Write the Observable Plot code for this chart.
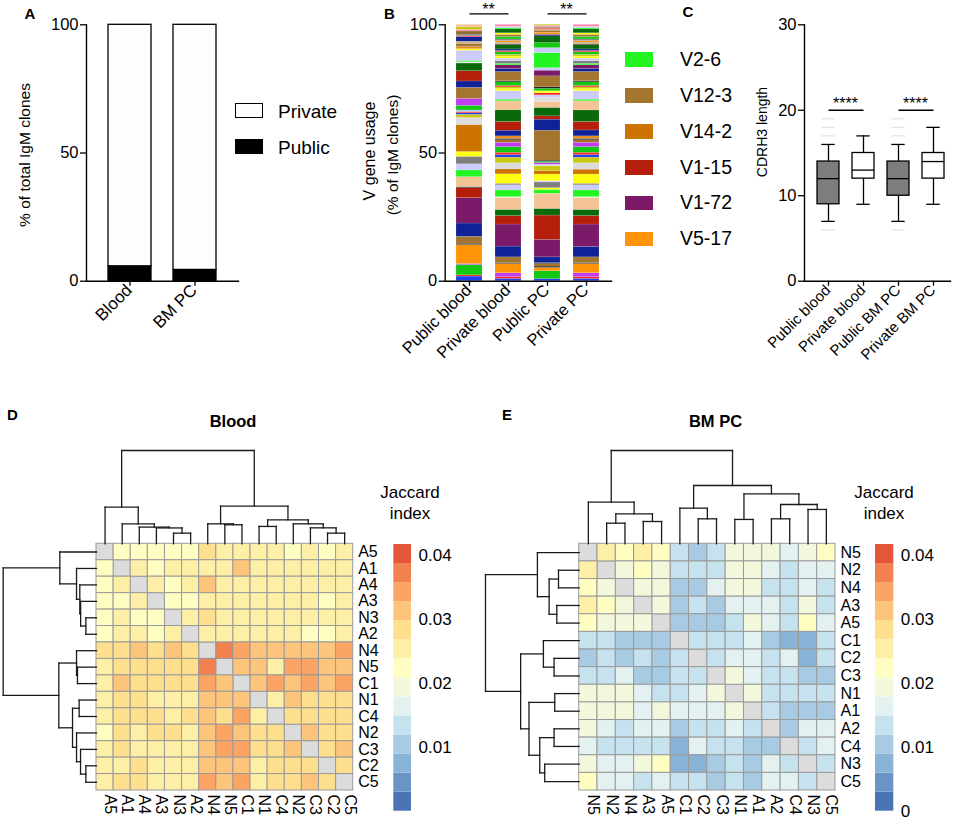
<!DOCTYPE html>
<html><head><meta charset="utf-8">
<script src="https://cdn.jsdelivr.net/npm/d3@7"></script>
<script src="https://cdn.jsdelivr.net/npm/@observablehq/plot@0.6"></script>
<style>
body{margin:0;background:#fff;}
#fig{position:relative;width:958px;height:820px;overflow:hidden;font-family:"Liberation Sans",Arial,sans-serif;color:#000;background:#fff;}
#fig svg{position:absolute;left:0;top:0;font-family:"Liberation Sans",Arial,sans-serif;}
.t{position:absolute;white-space:nowrap;line-height:1;}
</style></head><body><div id="fig"></div>
<script>
// ---------------- DATA ----------------
// Panel A
const aGroups = ["Blood", "BM PC"];
const aSeries = ["Private", "Public"];
const aPublicPct = [5.8, 4.4];
const aPrivatePct = [94.2, 95.6];
const aTicks = [0, 50, 100];

// Panel B
const bGroups = ["Public blood", "Private blood", "Public PC", "Private PC"];
const bTicks = [0, 50, 100];
const geneNames = ["V1-4","V1-5","V1-7","V1-9","V5-17","V1-12","V1-18","V1-19","V1-72","V1-15","V1-20","V2-3","V1-22","V2-6","V1-26","V1-31","V1-34","V14-2","V1-39","V1-42","V1-47","V1-50","V1-52","V1-53","V1-54","V12-3","V1-55","V1-59","V1-61","V1-63","V2-9","V1-64","V1-66","V1-69","V1-82","V5-12","V1-76","V1-80","V1-81","V3-1","V1-84","V1-85","V2-2","V2-4","V2-5","V3-6","V3-8","V5-4","V5-6","V5-9","V6-3","V6-6","V7-1","V7-3","V8-8","V8-12","V9-1","V9-3","V10-1","V10-3","V11-2","V13-2","V14-1","V14-4"];
const geneColors = ["#1f3ff5","#f02a1e","#c03cf0","#12c812","#ff9408","#111111","#a4752e","#0f2396","#7a1a68","#b41e0a","#0a690a","#111111","#f5c496","#22f522","#ccccff","#7f7f7f","#ffff10","#cc7300","#dcdcdc","#c8c810","#1f3ff5","#f02a1e","#a8c8f0","#12c812","#c03cf0","#a4752e","#0f2396","#b41e0a","#0a690a","#f2f2f2","#22f522","#ccccff","#ffff10","#e68a1e","#a4752e","#d2b48c","#0f2396","#f02a1e","#7f7f7f","#8c6a2a","#ff88aa","#c8c810","#0a690a","#f5c496","#7a1a68","#ccccff","#ffff10","#12c812","#111111","#ff9408","#22f522","#7f7f7f","#c8c810","#f02a1e","#0f2396","#0a690a","#111111","#12c812","#a4752e","#ffff10","#22f522","#ccccff","#dcdcdc","#ff88aa"];

const bPublicBloodGenes = ["V1-4","V1-5","V1-9","V1-7","V5-17","V1-12","V1-18","V1-19","V1-72","V1-15","V2-3","V1-22","V2-6","V1-26","V1-31","V1-34","V14-2","V1-39","V1-42","V1-47","V1-50","V1-52","V1-53","V1-54","V12-3","V1-55","V1-59","V1-61","V1-63","V2-9","V1-64","V1-66","V1-69","V1-82","V5-12","V1-76","V1-80","V1-81","V3-1","V1-84","V1-85","V2-4"];
const bPublicBloodPct = [1.8,0.5,4.0,0.4,7.4,0.5,2.7,5.2,9.9,3.9,0.4,3.9,2.6,2.4,2.9,1.9,10.5,2.8,1.2,0.6,0.5,0.6,1.8,2.7,4.3,2.5,4.0,3.0,0.5,0.5,4.0,0.6,0.8,1.3,0.8,1.8,0.4,0.6,1.2,0.6,1.0,1.0];

const bPrivateBloodGenes = ["V1-4","V1-5","V1-7","V5-17","V1-12","V1-18","V1-19","V1-72","V1-15","V1-20","V1-22","V1-63","V2-6","V1-26","V1-31","V1-34","V14-2","V1-39","V1-42","V1-47","V1-50","V1-53","V1-54","V12-3","V2-3","V1-69","V1-55","V1-59","V1-61","V2-4","V2-9","V1-64","V1-66","V1-85","V1-80","V5-4","V5-6","V1-82","V1-76","V2-5","V6-3","V1-81","V3-6","V3-8","V7-1","V1-9","V7-3","V8-8","V2-2","V9-1","V5-12","V5-9","V6-6","V9-3","V10-1","V10-3","V8-12","V11-2","V13-2","V14-4"];
const bPrivateBloodPct = [0.9,0.7,1.5,3.6,0.4,2.2,4.2,8.6,3.3,2.4,4.7,0.3,2.6,2.0,0.6,3.7,1.9,2.4,2.2,1.0,0.9,2.2,1.7,1.0,0.5,1.0,2.2,3.4,4.6,3.5,0.6,3.3,0.9,0.6,0.6,1.4,0.4,3.6,1.2,1.4,0.6,1.0,1.0,0.8,0.7,1.0,0.5,0.6,1.6,0.3,0.8,0.6,0.6,1.0,0.8,0.6,1.5,0.5,0.5,0.8];

const bPublicPCGenes = ["V1-4","V1-9","V5-17","V1-12","V1-18","V2-3","V1-19","V1-72","V1-15","V1-20","V1-22","V2-9","V1-66","V1-31","V1-26","V1-34","V14-2","V1-42","V1-39","V1-54","V1-53","V5-6","V12-3","V1-55","V1-59","V1-61","V2-4","V14-1","V1-64","V1-50","V3-8","V5-4","V9-1","V1-82","V2-5","V3-6","V2-6","V13-2","V9-3","V2-2","V8-8","V5-9","V10-1","V5-12","V7-3","V6-6","V1-84","V7-1"];
const bPublicPCPct = [0.8,3.1,1.3,0.5,1.0,0.4,2.2,6.8,9.5,2.6,5.9,1.5,0.7,2.2,0.5,2.6,1.3,1.9,0.6,0.7,0.5,0.4,11.7,4.3,1.3,3.3,2.3,1.6,1.0,0.8,0.8,1.0,0.5,4.3,2.2,1.0,5.9,1.9,2.0,2.6,0.6,0.8,0.8,0.6,0.5,0.4,0.4,0.4];

const bPrivatePCGenes = bPrivateBloodGenes.slice();
const bPrivatePCPct = [0.9,0.7,1.5,3.6,0.4,2.2,4.1,8.7,3.3,2.4,4.7,0.3,2.6,2.0,0.6,3.6,1.9,2.5,2.2,1.0,0.9,2.2,1.7,1.0,0.5,1.0,2.3,3.3,4.5,3.6,0.6,3.3,0.9,0.6,0.6,1.4,0.4,3.6,1.2,1.4,0.6,1.0,1.0,0.8,0.7,1.0,0.5,0.6,1.6,0.3,0.8,0.6,0.6,1.0,0.8,0.6,1.5,0.5,0.5,0.8];

const bLegendGenes = ["V2-6", "V12-3", "V14-2", "V1-15", "V1-72", "V5-17"];
const bSigPairs = [["Public blood", "Private blood"], ["Public PC", "Private PC"]];
const bSigLevel = 104.3;
const bSigText = "**";

// Panel C (box summaries)
const cGroups = ["Public blood", "Private blood", "Public BM PC", "Private BM PC"];
const cTicks = [0, 10, 20, 30];
const cKind = ["Public", "Private", "Public", "Private"];
const cMin = [7, 9, 7, 9];
const cQ1 = [9, 12, 10, 12];
const cMedian = [12, 13, 12, 14];
const cQ3 = [14, 15, 14, 15];
const cMax = [16, 17, 16, 18];
const cFaintGroup = ["Public blood","Public blood","Public blood","Public blood","Public BM PC","Public BM PC","Public BM PC","Public BM PC"];
const cFaintValue = [6, 17, 18, 19, 6, 17, 18, 19];
const cSigPairs = [["Public blood", "Private blood"], ["Public BM PC", "Private BM PC"]];
const cSigLevel = 20;
const cSigText = "****";

// Panel D (Blood) Jaccard matrix
const dLabels = ["A5","A1","A4","A3","N3","A2","N4","N5","C1","N1","C4","N2","C3","C2","C5"];
const dMatrix = [
 [null,.0225,.0225,.0225,.0225,.0225,.0285,.0255,.0255,.0255,.0255,.0225,.0255,.0225,.0255],
 [.0225,null,.0255,.0225,.0255,.0255,.0255,.0255,.0315,.0255,.0255,.0255,.0255,.0255,.0255],
 [.0225,.0255,null,.0255,.0225,.0255,.0315,.0255,.0255,.0255,.0255,.0255,.0255,.0255,.0255],
 [.0225,.0225,.0255,null,.0225,.0225,.0255,.0255,.0255,.0255,.0255,.0255,.0255,.0225,.0255],
 [.0225,.0255,.0225,.0225,null,.0255,.0285,.0255,.0255,.0255,.0255,.0255,.0255,.0255,.0255],
 [.0225,.0255,.0255,.0225,.0255,null,.0255,.0255,.0255,.0255,.0255,.0255,.0225,.0225,.0255],
 [.0285,.0285,.0315,.0285,.0315,.0285,null,.0375,.0345,.0315,.0315,.0315,.0315,.0315,.0345],
 [.0255,.0285,.0285,.0285,.0285,.0285,.0375,null,.0315,.0315,.0255,.0345,.0345,.0315,.0315],
 [.0255,.0315,.0285,.0285,.0285,.0285,.0345,.0315,null,.0315,.0345,.0315,.0345,.0315,.0345],
 [.0255,.0285,.0285,.0255,.0255,.0255,.0315,.0315,.0315,null,.0255,.0315,.0285,.0285,.0285],
 [.0255,.0285,.0285,.0285,.0255,.0285,.0315,.0285,.0345,.0255,null,.0285,.0285,.0285,.0285],
 [.0225,.0285,.0255,.0285,.0285,.0255,.0315,.0345,.0315,.0285,.0285,null,.0315,.0285,.0285],
 [.0255,.0285,.0255,.0255,.0255,.0255,.0315,.0345,.0345,.0285,.0285,.0315,null,.0285,.0315],
 [.0255,.0255,.0285,.0255,.0255,.0255,.0315,.0315,.0315,.0255,.0285,.0285,.0285,null,.0285],
 [.0255,.0285,.0285,.0255,.0255,.0255,.0345,.0315,.0345,.0255,.0285,.0285,.0315,.0285,null]
];
// dendrogram: [height, left, right]
const dTree = [1.0,
  [0.393, "A5", [0.214, "A1", [0.179, "A4", [0.170, "A3", [0.114, "N3", "A2"]]]]],
  [0.404,
    [0.214, "N4", [0.204, "N5", "C1"]],
    [0.257, [0.186, "N1", "C4"], [0.214, "N2", [0.171, "C3", [0.114, "C2", "C5"]]]]]];

// Panel E (BM PC)
const eLabels = ["N5","N2","N4","A3","A5","C1","C2","C3","N1","A1","A2","C4","N3","C5"];
const eMatrix = [
 [null,.0255,.0225,.0255,.0225,.0135,.0105,.0135,.0195,.0195,.0195,.0165,.0195,.0225],
 [.0255,null,.0195,.0225,.0195,.0135,.0135,.0135,.0195,.0195,.0165,.0135,.0165,.0165],
 [.0225,.0195,null,.0195,.0195,.0105,.0105,.0165,.0195,.0195,.0135,.0135,.0165,.0135],
 [.0255,.0225,.0195,null,.0195,.0105,.0135,.0105,.0165,.0165,.0165,.0135,.0195,.0135],
 [.0225,.0195,.0195,.0195,null,.0105,.0105,.0105,.0135,.0195,.0165,.0135,.0225,.0165],
 [.0135,.0135,.0105,.0105,.0105,null,.0135,.0135,.0135,.0165,.0105,.0075,.0075,.0135],
 [.0105,.0135,.0105,.0135,.0105,.0135,null,.0135,.0165,.0165,.0135,.0165,.0075,.0135],
 [.0135,.0135,.0165,.0105,.0105,.0135,.0135,null,.0195,.0165,.0135,.0135,.0105,.0105],
 [.0195,.0195,.0195,.0165,.0135,.0135,.0165,.0195,null,.0195,.0135,.0135,.0135,.0135],
 [.0195,.0195,.0195,.0165,.0195,.0165,.0165,.0165,.0195,null,.0135,.0105,.0105,.0105],
 [.0195,.0165,.0135,.0165,.0165,.0105,.0135,.0135,.0165,.0135,null,.0105,.0165,.0165],
 [.0165,.0135,.0135,.0135,.0135,.0075,.0165,.0135,.0135,.0105,.0105,null,.0135,.0165],
 [.0195,.0165,.0165,.0195,.0225,.0075,.0075,.0105,.0135,.0105,.0165,.0135,null,.0135],
 [.0225,.0165,.0165,.0135,.0165,.0135,.0135,.0105,.0135,.0105,.0165,.0165,.0135,null]
];
const eTree = [1.0,
  [0.446, "N5", [0.321, [0.221, "N2", "N4"], [0.239, "A3", "A5"]]],
  [0.625,
    [0.382, "C1", [0.268, "C2", "C3"]],
    [0.536, [0.261, "N1", "A1"], [0.421, [0.268, "A2", "C4"], [0.368, "N3", "C5"]]]]];

// Jaccard colour scale
const jaccardMax = 0.0417;
const jaccardSteps = 14;
const jaccardColors = ["#4a74b4","#6a94c6","#88b2d6","#a6cbe2","#c6e2ee","#e3f2f1","#f3f8dc","#fffec2","#feefa6","#fedf8e","#fdc47c","#fba464","#f3804f","#e45539"];
const dLegendTicks = [0.01, 0.02, 0.03, 0.04];
const eLegendTicks = [0, 0.01, 0.02, 0.03, 0.04];

// ---------------- DRAWING ----------------
const fig = document.getElementById("fig");
const baseStyle = 'background:none;font-family:"Liberation Sans",Arial,sans-serif;font-size:16px;color:#000;overflow:visible;';
function framed(f) {
  return {width: 958, height: 820, marginLeft: f.l, marginRight: 958 - f.r, marginTop: f.t, marginBottom: 820 - f.b, style: baseStyle};
}
function add(p) { fig.appendChild(p); return p; }
function label(str, x, y, o = {}) {
  const d = document.createElement("div");
  d.className = "t"; d.textContent = str;
  d.style.left = x + "px"; d.style.top = y + "px";
  d.style.fontSize = (o.size || 16) + "px";
  d.style.fontWeight = o.weight || "normal";
  const a = o.anchor || "middle";
  const tx = a === "start" ? "0" : a === "end" ? "-100%" : "-50%";
  d.style.transform = `translate(${tx},-50%)` + (o.rotate ? ` rotate(${o.rotate}deg)` : "");
  fig.appendChild(d); return d;
}
function swatch(x, y, w, h, fill, stroke) {
  const d = document.createElement("div");
  Object.assign(d.style, {position: "absolute", left: x + "px", top: y + "px", width: w + "px", height: h + "px",
    background: fill, boxSizing: "border-box", border: stroke ? `1.3px solid ${stroke}` : "none"});
  fig.appendChild(d);
}
function bandCenter(plot, v) {
  const s = plot.scale("x");
  return s.apply(v) + (s.bandwidth || 0) / 2;
}
// axis lines, tick marks, and tick labels (labels as text marks with explicit sizes)
function axesMarks(yTicks, xGroups, xSize) {
  return [
    Plot.frame({anchor: "left", strokeWidth: 1.4}),
    Plot.frame({anchor: "bottom", strokeWidth: 1.4}),
    Plot.axisY({ticks: yTicks, tickSize: 6, strokeWidth: 1.3, tickFormat: () => "", label: null}),
    Plot.axisX({tickSize: 5, strokeWidth: 1.3, tickFormat: () => "", label: null}),
    Plot.text(yTicks, {y: d => d, text: d => String(d), frameAnchor: "left", dx: -8, textAnchor: "end", fontSize: 16.5}),
    Plot.text(xGroups, {x: d => d, text: d => d, frameAnchor: "bottom", dy: 10, dx: 3, rotate: -45, textAnchor: "end", fontSize: xSize})
  ];
}

// ---- Panel A ----
const aFrame = {l: 86, r: 238, t: 24.3, b: 280.7};
const aRows = aGroups.flatMap((g, i) => [
  {group: g, kind: "Public", pct: aPublicPct[i]},
  {group: g, kind: "Private", pct: aPrivatePct[i]}
]);
add(Plot.plot({
  ...framed(aFrame),
  x: {domain: aGroups, paddingInner: 0.346, paddingOuter: 0.338, label: null, axis: null},
  y: {domain: [0, 100], label: null, axis: null},
  color: {domain: aSeries, range: ["#fdfdfd", "#000000"]},
  marks: [
    Plot.barY(aRows, {x: "group", y: "pct", fill: "kind", stroke: "#000", strokeWidth: 1.3}),
    ...axesMarks(aTicks, aGroups, 17)
  ]
}));
label("% of total IgM clones", 25, 155, {size: 15.5, rotate: -90});
label("A", 30, 13, {size: 15, weight: "bold"});
const aLegendFill = {"Private": "#fdfdfd", "Public": "#000"};
aSeries.forEach((s, i) => {
  const top = 103.3 + i * 36;
  swatch(235, top, 28.3, 15, aLegendFill[s], "#000");
  label(s, 278, top + 7.5, {size: 19, anchor: "start"});
});

// ---- Panel B ----
const bFrame = {l: 444.7, r: 611, t: 24.3, b: 280.7};
const bSets = [
  [bPublicBloodGenes, bPublicBloodPct],
  [bPrivateBloodGenes, bPrivateBloodPct],
  [bPublicPCGenes, bPublicPCPct],
  [bPrivatePCGenes, bPrivatePCPct]
];
const bRows = bSets.flatMap(([genes, pct], gi) => genes.map((g, k) => ({group: bGroups[gi], gene: g, pct: pct[k]})));
const bPlot = add(Plot.plot({
  ...framed(bFrame),
  x: {domain: bGroups, paddingInner: 0.333, paddingOuter: 0.29, label: null, axis: null},
  y: {domain: [0, 100], label: null, axis: null},
  color: {domain: geneNames, range: geneColors},
  marks: [
    Plot.barY(bRows, {x: "group", y: "pct", fill: "gene", stroke: "#ffffff", strokeOpacity: 0.25, strokeWidth: 0.5}),
    Plot.link(bSigPairs, {x1: d => d[0], x2: d => d[1], y1: () => bSigLevel, y2: () => bSigLevel, stroke: "#000", strokeWidth: 1.3}),
    ...axesMarks(bTicks, bGroups, 16.5)
  ]
}));
bSigPairs.forEach(([g1, g2]) => label(bSigText, (bandCenter(bPlot, g1) + bandCenter(bPlot, g2)) / 2, 9.5, {size: 16}));
label("V gene usage", 370, 151, {size: 16, rotate: -90});
label("(% of IgM clones)", 393, 155, {size: 15.5, rotate: -90});
label("B", 389.5, 13, {size: 15, weight: "bold"});
bLegendGenes.forEach((g, i) => {
  const top = 52.3 + i * 35.9;
  swatch(625.3, top, 27.3, 14.5, geneColors[geneNames.indexOf(g)], null);
  label(g, 680, top + 7.5, {size: 19.5, anchor: "start"});
});

// ---- Panel C ----
const cFrame = {l: 804, r: 950, t: 24.3, b: 280.7};
const cRows = cGroups.map((g, i) => ({group: g, kind: cKind[i], min: cMin[i], q1: cQ1[i], med: cMedian[i], q3: cQ3[i], max: cMax[i]}));
const cFaint = cFaintGroup.map((g, i) => ({group: g, v: cFaintValue[i]}));
const cPlot = add(Plot.plot({
  ...framed(cFrame),
  x: {domain: cGroups, paddingInner: 0.375, paddingOuter: 0.26, align: 0.69, label: null, axis: null},
  y: {domain: [0, 30], label: null, axis: null},
  color: {domain: ["Public", "Private"], range: ["#7d7d7d", "#ffffff"]},
  marks: [
    Plot.tickY(cFaint, {x: "group", y: "v", stroke: "#dde3ec", strokeWidth: 1.2, insetLeft: 4.3, insetRight: 4.3}),
    Plot.ruleX(cRows, {x: "group", y1: "min", y2: "max", stroke: "#000", strokeWidth: 1.3}),
    Plot.barY(cRows, {x: "group", y1: "q1", y2: "q3", fill: "kind", stroke: "#000", strokeWidth: 1.3}),
    Plot.tickY(cRows, {x: "group", y: "med", stroke: "#000", strokeWidth: 1.3}),
    Plot.tickY(cRows, {x: "group", y: "min", stroke: "#000", strokeWidth: 1.3, insetLeft: 4.3, insetRight: 4.3}),
    Plot.tickY(cRows, {x: "group", y: "max", stroke: "#000", strokeWidth: 1.3, insetLeft: 4.3, insetRight: 4.3}),
    Plot.link(cSigPairs, {x1: d => d[0], x2: d => d[1], y1: () => cSigLevel, y2: () => cSigLevel, stroke: "#000", strokeWidth: 1.3}),
    ...axesMarks(cTicks, cGroups, 15)
  ]
}));
cSigPairs.forEach(([g1, g2]) => label(cSigText, (bandCenter(cPlot, g1) + bandCenter(cPlot, g2)) / 2, 103.5, {size: 16}));
label("CDRH3 length", 762, 132, {size: 14, rotate: -90});
label("C", 688, 11, {size: 15, weight: "bold"});

// ---- Heatmaps D & E ----
const jaccardBreaks = d3.range(jaccardSteps + 1).map(k => k * jaccardMax / jaccardSteps);
const jaccardScale = {type: "threshold", domain: jaccardBreaks.slice(1, -1), range: jaccardColors};

function dendroLinks(tree) {
  const links = []; let idx = 0;
  (function walk(node) {
    if (typeof node === "string") return {pos: (idx++) + 0.5, h: 0};
    const [h, a, b] = node;
    const A = walk(a), B = walk(b);
    links.push({p1: A.pos, h1: A.h, p2: A.pos, h2: h});
    links.push({p1: B.pos, h1: B.h, p2: B.pos, h2: h});
    links.push({p1: A.pos, h1: h, p2: B.pos, h2: h});
    return {pos: (A.pos + B.pos) / 2, h};
  })(tree);
  return links;
}

function heatPanel(c) {
  const n = c.labels.length;
  const cells = c.matrix.flatMap((row, i) => row.map((v, j) => ({i, j, v})));
  add(Plot.plot({
    ...framed(c.hm),
    x: {domain: [0, n], axis: null},
    y: {domain: [0, n], reverse: true, axis: null},
    color: jaccardScale,
    marks: [
      Plot.rect(cells.filter(d => d.v == null), {x1: d => d.j, x2: d => d.j + 1, y1: d => d.i, y2: d => d.i + 1, fill: "#dcdcdc", stroke: "#9a9a9a", strokeWidth: 1}),
      Plot.rect(cells.filter(d => d.v != null), {x1: d => d.j, x2: d => d.j + 1, y1: d => d.i, y2: d => d.i + 1, fill: "v", stroke: "#9a9a9a", strokeWidth: 1}),
      Plot.text(c.labels, {x: (d, i) => i + 0.5, text: d => d, frameAnchor: "bottom", dy: 4, rotate: 90, textAnchor: "start", fontSize: 16}),
      Plot.text(c.labels, {y: (d, i) => i + 0.5, text: d => d, frameAnchor: "right", dx: 5, textAnchor: "start", fontSize: 16})
    ]
  }));
  const links = dendroLinks(c.tree);
  const hmax = c.tree[0];
  add(Plot.plot({
    ...framed({l: c.hm.l, r: c.hm.r, t: 450, b: c.hm.t}),
    x: {domain: [0, n], axis: null}, y: {domain: [0, hmax], axis: null},
    marks: [Plot.link(links, {x1: "p1", x2: "p2", y1: "h1", y2: "h2", stroke: "#1a1a1a", strokeWidth: 1.3, strokeLinecap: "square"})]
  }));
  add(Plot.plot({
    ...framed({l: c.leftX, r: c.hm.l, t: c.hm.t, b: c.hm.b}),
    x: {domain: [hmax, 0], axis: null}, y: {domain: [0, n], reverse: true, axis: null},
    marks: [Plot.link(links, {x1: "h1", x2: "h2", y1: "p1", y2: "p2", stroke: "#1a1a1a", strokeWidth: 1.3, strokeLinecap: "square"})]
  }));
  const bins = d3.range(jaccardSteps).map(k => ({lo: jaccardBreaks[k], hi: jaccardBreaks[k + 1], mid: (jaccardBreaks[k] + jaccardBreaks[k + 1]) / 2}));
  add(Plot.plot({
    ...framed(c.legend),
    x: {domain: [0, 1], axis: null}, y: {domain: [0, jaccardMax], axis: null},
    color: jaccardScale,
    marks: [
      Plot.rect(bins, {x1: () => 0, x2: () => 1, y1: "lo", y2: "hi", fill: "mid"}),
      Plot.text(c.ticks, {y: d => d, text: d => String(d), frameAnchor: "right", dx: 7, textAnchor: "start", fontSize: 17})
    ]
  }));
  label(c.title, c.titleX, 421, {size: 16.5, weight: "bold"});
  label("Jaccard", c.jx, 491.5, {size: 17});
  label("index", c.jx, 513, {size: 17});
}

heatPanel({labels: dLabels, matrix: dMatrix, tree: dTree, title: "Blood", titleX: 233, jx: 410,
  hm: {l: 96, r: 352.7, t: 543.3, b: 790}, leftX: 2.7,
  legend: {l: 393.3, r: 411, t: 544, b: 810.7}, ticks: dLegendTicks});
heatPanel({labels: eLabels, matrix: eMatrix, tree: eTree, title: "BM PC", titleX: 715.5, jx: 884,
  hm: {l: 578.7, r: 835, t: 543.3, b: 790}, leftX: 485,
  legend: {l: 875, r: 893.3, t: 544, b: 810.7}, ticks: eLegendTicks});
label("D", 12.5, 414, {size: 15, weight: "bold"});
label("E", 507, 414, {size: 15, weight: "bold"});
</script></body></html>
